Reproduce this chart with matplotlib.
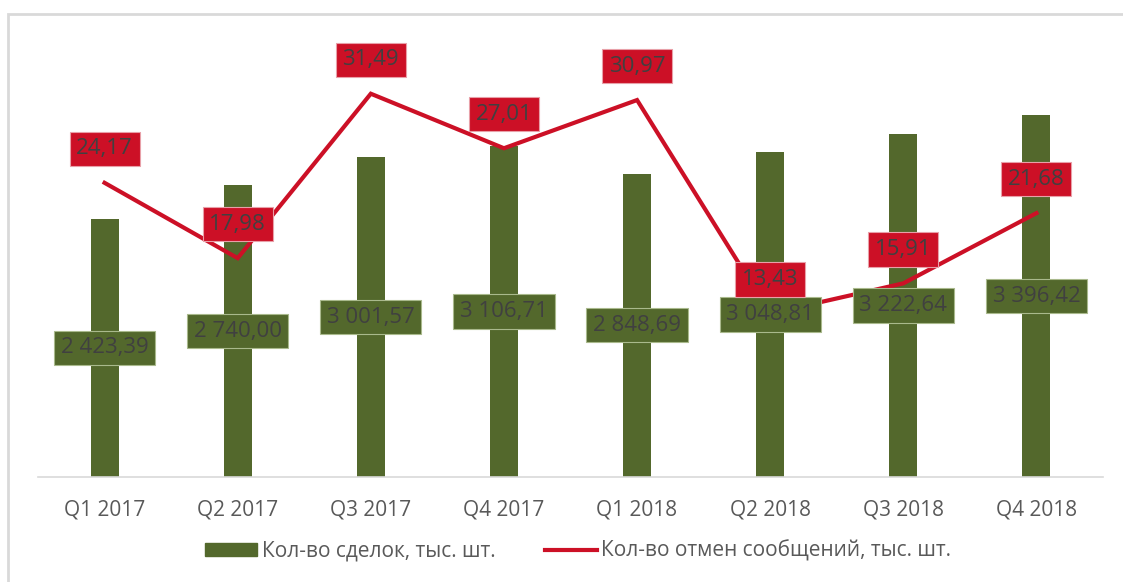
import matplotlib.pyplot as plt
from matplotlib.patches import Patch, Rectangle
from matplotlib.lines import Line2D

plt.rcParams['font.family'] = ['Open Sans', 'DejaVu Sans']

# Данные
quarters = ['Q1 2017', 'Q2 2017', 'Q3 2017', 'Q4 2017',
            'Q1 2018', 'Q2 2018', 'Q3 2018', 'Q4 2018']
deals = [2423.39, 2740.00, 3001.57, 3106.71, 2848.69, 3048.81, 3222.64, 3396.42]
cancels = [24.17, 17.98, 31.49, 27.01, 30.97, 13.43, 15.91, 21.68]

green = '#53682C'
red = '#CC1026'
label_col = '#404040'


def fmt(v):
    return f'{v:,.2f}'.replace(',', ' ').replace('.', ',')


W, H = 1123, 582
fig = plt.figure(figsize=(W / 100, H / 100), dpi=100)
ax = fig.add_axes([38 / W, (H - 477) / H, (1103 - 38) / W, (477 - 51) / H])
ax2 = ax.twinx()

x = range(len(quarters))
ax.bar(x, deals, width=0.21, color=green, zorder=2)
ax.set_ylim(0, 4000)
ax.set_xlim(-0.5, len(quarters) - 0.5)

ax2.plot(x, cancels, color=red, lw=3, solid_joinstyle='miter', zorder=3)
ax2.set_ylim(0, 35)

for a in (ax, ax2):
    for s in ['top', 'left', 'right']:
        a.spines[s].set_visible(False)
    a.set_yticks([])
ax2.spines['bottom'].set_visible(False)
ax.spines['bottom'].set_color('#D9D9D9')
ax.spines['bottom'].set_linewidth(1.2)

ax.set_xticks(list(x))
ax.set_xticklabels(quarters, fontsize=15, color='#595959')
ax.tick_params(axis='x', length=0, pad=16)

# подписи столбцов (по центру)
for i, v in enumerate(deals):
    ax2.text(i, v / 2 * 35 / 4000, fmt(v), ha='center', va='center',
             fontsize=16, color=label_col, zorder=4,
             bbox=dict(boxstyle='square,pad=0.3', fc=green, ec='#A9B98C', lw=0.8))

# подписи линии (сверху)
for i, v in enumerate(cancels):
    ax2.annotate(fmt(v), (i, v), xytext=(0, 34), textcoords='offset pixels',
                 ha='center', va='center', fontsize=16, color=label_col, zorder=5,
                 bbox=dict(boxstyle='square,pad=0.3', fc=red, ec='#E8A0A8', lw=0.8))

handles = [Patch(facecolor=green, edgecolor=green),
           Line2D([0], [0], color=red, lw=3)]
names = ['Кол-во сделок, тыс. шт.', 'Кол-во отмен сообщений, тыс. шт.']
leg = fig.legend(handles, names, loc='center', bbox_to_anchor=(0.515, (H - 551) / H),
                 ncol=2, frameon=False, fontsize=15, handlelength=2.5, handleheight=0.55,
                 handletextpad=0.2, columnspacing=2.4)
for t in leg.get_texts():
    t.set_color('#595959')

fig.patches.append(Rectangle((8 / W, -0.1), 1.2, (H - 14) / H + 0.1,
                             transform=fig.transFigure, fill=False,
                             ec='#D9D9D9', lw=2))

fig.savefig('out.png', dpi=100)
